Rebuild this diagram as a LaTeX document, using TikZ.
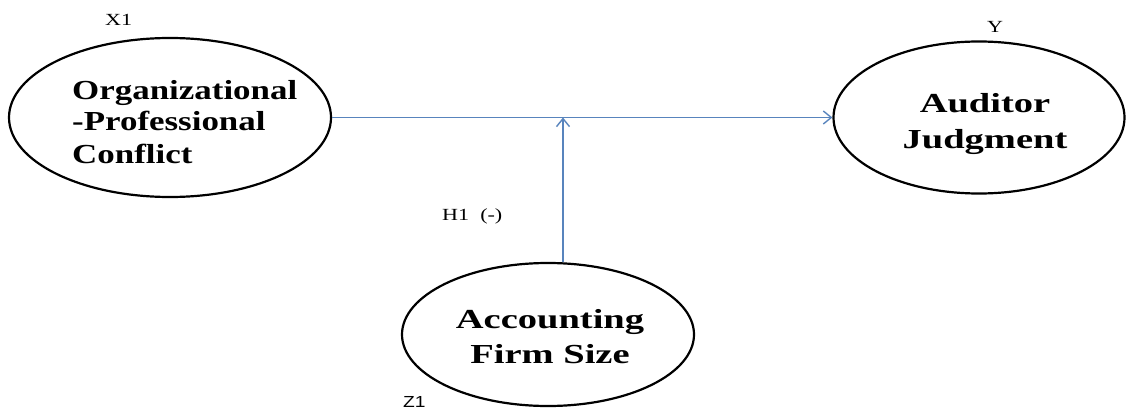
\documentclass[tikz,border=0pt]{standalone}
\usepackage{fontspec}
\usepackage{graphicx}
\setmainfont{Liberation Serif}
\newfontfamily\sansf{Liberation Sans}
\usetikzlibrary{arrows.meta,shapes.geometric}
\definecolor{linkblue}{RGB}{88,132,189}
\begin{document}
\begin{tikzpicture}[x=1pt,y=-1pt,
  var/.style={draw=black,line width=2.2pt,ellipse,inner sep=0pt},
  big/.style={font=\fontsize{27.5}{32}\selectfont\bfseries,inner sep=0pt},
  small/.style={font=\fontsize{17}{20}\selectfont,inner sep=0pt},
  link/.style={draw=linkblue,line width=1.4pt,-{Straight Barb[length=8pt,width=13pt]}}]
\useasboundingbox (0,0) rectangle (1126,409);
% ellipses
\node[var,minimum width=322pt,minimum height=159pt] (oc) at (170,117.5) {};
\node[var,minimum width=291pt,minimum height=152pt] (aj) at (979,117.5) {};
\node[var,minimum width=292pt,minimum height=143pt] (fs) at (548,334.5) {};
% texts
\node[big,anchor=base west] (oc1) at (72,100) {\scalebox{1.27}[1]{Organizational}};
\node[big,anchor=base west] (oc2) at (72,130) {\scalebox{1.27}[1]{-Professional}};
\node[big,anchor=base west] (oc3) at (72,163) {\scalebox{1.27}[1]{Conflict}};
\node[big,anchor=base] (aj1) at (985,113) {\scalebox{1.4}[1]{Auditor}};
\node[big,anchor=base] (aj2) at (985,148) {\scalebox{1.4}[1]{Judgment}};
\node[big,anchor=base] (fs1) at (550,328) {\scalebox{1.4}[1]{Accounting}};
\node[big,anchor=base] (fs2) at (550,363) {\scalebox{1.4}[1]{Firm Size}};
% small labels
\node[small,anchor=base west] (x1) at (105,26) {\scalebox{1.3}[1]{X1}};
\node[small,anchor=base] (ylab) at (995,33) {\scalebox{1.3}[1]{Y}};
\node[small,anchor=base west] (h1) at (442,220) {\scalebox{1.3}[1]{H1\ \ (-)}};
\node[small,anchor=base west,font=\fontsize{16}{18}\sansf] (z1) at (403,407) {\scalebox{1.2}[1]{Z1}};
% connectors
\coordinate (m) at (563,117.5);
\draw[link] (oc.east) -- (aj.west);
\draw[link] (fs.north -| m) -- (m);
\end{tikzpicture}
\end{document}
